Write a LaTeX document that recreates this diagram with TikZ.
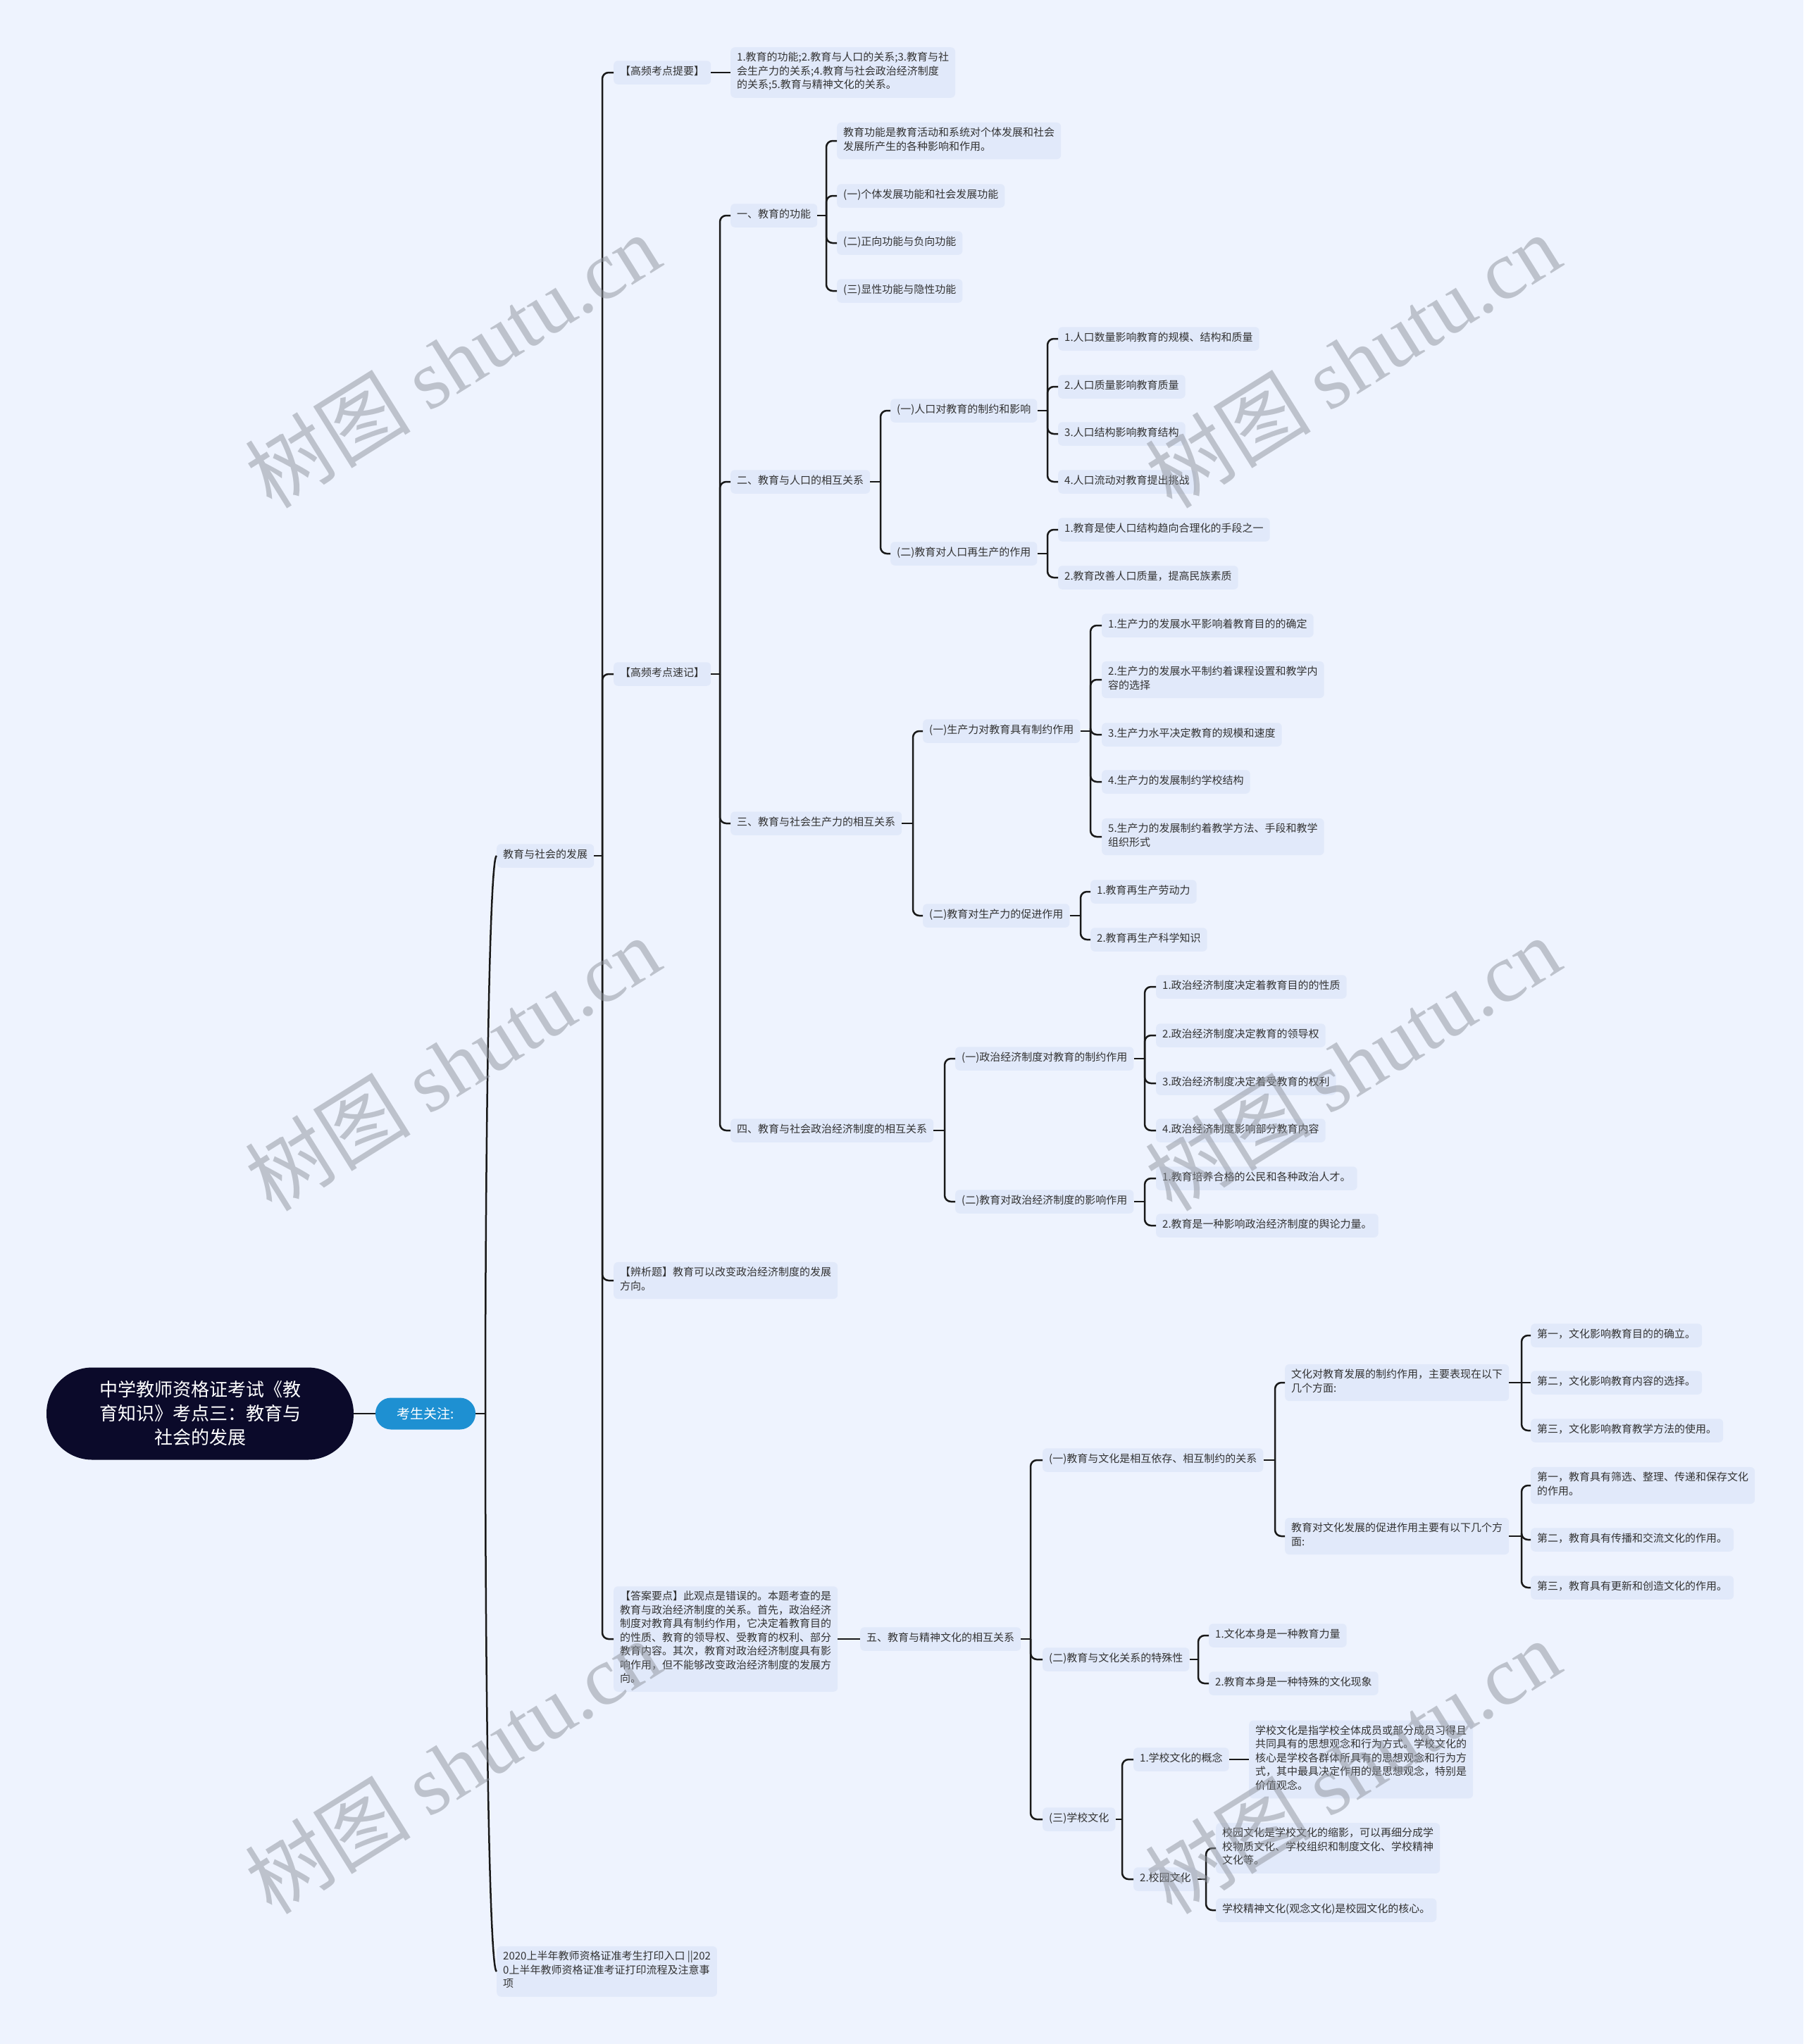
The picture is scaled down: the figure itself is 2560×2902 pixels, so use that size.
\documentclass[tikz,border=0pt]{standalone}
\usepackage{fontspec}
\setmainfont{Noto Sans CJK SC}
\newfontfamily\wmlatin{Liberation Serif}
\definecolor{bgc}{HTML}{EEF3FE}
\definecolor{nodefill}{HTML}{E1E9FA}
\definecolor{txt}{HTML}{333333}
\definecolor{rootc}{HTML}{0B0A2A}
\definecolor{kaoc}{HTML}{1E90D2}
\definecolor{wmc}{HTML}{8E939C}
\newcommand{\fs}{\fontsize{15pt}{19.5pt}\selectfont}
\newcommand{\grp}[3]{%
  \draw[conn] (#1.east) -- (#2);
  \foreach \c in {#3} {\draw[conn] (#2) |- (\c.west);}
}
\begin{document}
\begin{tikzpicture}[x=1pt,y=-1pt,
  box/.style={anchor=west, fill=nodefill, rounded corners=6pt, inner xsep=9pt, inner ysep=7pt, align=left, font=\fs, text=txt, execute at begin node=\strut, execute at end node=\strut},
  conn/.style={draw=black!90, line width=2.5pt, rounded corners=9pt},
  wm/.style={text=wmc, text opacity=0.5, rotate=32, font=\fontsize{118pt}{128pt}\selectfont, inner sep=0pt}
]
\fill[bgc] (0,0) rectangle (2560,2902);
\useasboundingbox (0,0) rectangle (2560,2902);

% root and first level
\node[fill=rootc, text=white, rounded corners=65pt, minimum width=436pt, minimum height=131pt, align=center, font=\fontsize{26pt}{34pt}\selectfont, inner sep=0pt] (root) at (284,2007) {中学教师资格证考试《教\\育知识》考点三：教育与\\社会的发展};
\node[fill=kaoc, text=white, rounded corners=22pt, minimum width=142pt, minimum height=45pt, font=\fontsize{19pt}{22pt}\selectfont, inner sep=0pt] (kao) at (604,2007) {考生关注:};
\draw[conn] (root.east) -- (kao.west);

\node[box] (A) at (705,1215) {教育与社会的发展};
\node[box] (B) at (705,2799) {2020上半年教师资格证准考生打印入口 ||202\\0上半年教师资格证准考证打印流程及注意事\\项};
\coordinate (tk) at (689,2007);
\draw[conn] (kao.east) -- (tk);
\draw[conn] (tk) .. controls (689,1600) and (695,1215) .. (A.west);
\draw[conn] (tk) .. controls (689,2420) and (695,2799) .. (B.west);

% second level
\node[box] (A1) at (871,103) {【高频考点提要】};
\node[box] (A2) at (871,957) {【高频考点速记】};
\node[box] (A3) at (871,1818) {【辨析题】教育可以改变政治经济制度的发展\\方向。};
\node[box] (A4) at (871,2327) {【答案要点】此观点是错误的。本题考查的是\\教育与政治经济制度的关系。首先，政治经济\\制度对教育具有制约作用，它决定着教育目的\\的性质、教育的领导权、受教育的权利、部分\\教育内容。其次，教育对政治经济制度具有影\\响作用，但不能够改变政治经济制度的发展方\\向。};
\coordinate (tA) at (855,1215);
\grp{A}{tA}{A1,A2,A3,A4}

\node[box] (A1a) at (1037,103) {1.教育的功能;2.教育与人口的关系;3.教育与社\\会生产力的关系;4.教育与社会政治经济制度\\的关系;5.教育与精神文化的关系。};
\draw[conn] (A1.east) -- (A1a.west);

\node[box] (S1) at (1037,306) {一、教育的功能};
\node[box] (S2) at (1037,684) {二、教育与人口的相互关系};
\node[box] (S3) at (1037,1169) {三、教育与社会生产力的相互关系};
\node[box] (S4) at (1037,1605) {四、教育与社会政治经济制度的相互关系};
\coordinate (tA2) at (1022,957);
\grp{A2}{tA2}{S1,S2,S3,S4}

% 一
\node[box] (S1a) at (1188,200) {教育功能是教育活动和系统对个体发展和社会\\发展所产生的各种影响和作用。};
\node[box] (S1b) at (1188,278) {(一)个体发展功能和社会发展功能};
\node[box] (S1c) at (1188,345) {(二)正向功能与负向功能};
\node[box] (S1d) at (1188,413) {(三)显性功能与隐性功能};
\coordinate (tS1) at (1173,306);
\grp{S1}{tS1}{S1a,S1b,S1c,S1d}

% 二
\node[box] (P1) at (1264,583) {(一)人口对教育的制约和影响};
\node[box] (P2) at (1264,786) {(二)教育对人口再生产的作用};
\coordinate (tS2) at (1250,684);
\grp{S2}{tS2}{P1,P2}
\node[box] (P1a) at (1502,481) {1.人口数量影响教育的规模、结构和质量};
\node[box] (P1b) at (1502,549) {2.人口质量影响教育质量};
\node[box] (P1c) at (1502,616) {3.人口结构影响教育结构};
\node[box] (P1d) at (1502,684) {4.人口流动对教育提出挑战};
\coordinate (tP1) at (1487,583);
\grp{P1}{tP1}{P1a,P1b,P1c,P1d}
\node[box] (P2a) at (1502,752) {1.教育是使人口结构趋向合理化的手段之一};
\node[box] (P2b) at (1502,820) {2.教育改善人口质量，提高民族素质};
\coordinate (tP2) at (1487,786);
\grp{P2}{tP2}{P2a,P2b}

% 三
\node[box] (Q1) at (1310,1038) {(一)生产力对教育具有制约作用};
\node[box] (Q2) at (1310,1300) {(二)教育对生产力的促进作用};
\coordinate (tS3) at (1296,1169);
\grp{S3}{tS3}{Q1,Q2}
\node[box] (Q1a) at (1564,888) {1.生产力的发展水平影响着教育目的的确定};
\node[box] (Q1b) at (1564,965) {2.生产力的发展水平制约着课程设置和教学内\\容的选择};
\node[box] (Q1c) at (1564,1043) {3.生产力水平决定教育的规模和速度};
\node[box] (Q1d) at (1564,1110) {4.生产力的发展制约学校结构};
\node[box] (Q1e) at (1564,1188) {5.生产力的发展制约着教学方法、手段和教学\\组织形式};
\coordinate (tQ1) at (1548,1038);
\grp{Q1}{tQ1}{Q1a,Q1b,Q1c,Q1d,Q1e}
\node[box] (Q2a) at (1548,1266) {1.教育再生产劳动力};
\node[box] (Q2b) at (1548,1334) {2.教育再生产科学知识};
\coordinate (tQ2) at (1534,1300);
\grp{Q2}{tQ2}{Q2a,Q2b}

% 四
\node[box] (R1) at (1356,1503) {(一)政治经济制度对教育的制约作用};
\node[box] (R2) at (1356,1706) {(二)教育对政治经济制度的影响作用};
\coordinate (tS4) at (1341,1605);
\grp{S4}{tS4}{R1,R2}
\node[box] (R1a) at (1641,1401) {1.政治经济制度决定着教育目的的性质};
\node[box] (R1b) at (1641,1470) {2.政治经济制度决定教育的领导权};
\node[box] (R1c) at (1641,1538) {3.政治经济制度决定着受教育的权利};
\node[box] (R1d) at (1641,1605) {4.政治经济制度影响部分教育内容};
\coordinate (tR1) at (1625,1503);
\grp{R1}{tR1}{R1a,R1b,R1c,R1d}
\node[box] (R2a) at (1641,1673) {1.教育培养合格的公民和各种政治人才。};
\node[box] (R2b) at (1641,1740) {2.教育是一种影响政治经济制度的舆论力量。};
\coordinate (tR2) at (1625,1706);
\grp{R2}{tR2}{R2a,R2b}

% 五
\node[box] (W) at (1221,2327) {五、教育与精神文化的相互关系};
\draw[conn] (A4.east) -- (W.west);
\node[box] (W1) at (1480,2073) {(一)教育与文化是相互依存、相互制约的关系};
\node[box] (W2) at (1480,2356) {(二)教育与文化关系的特殊性};
\node[box] (W3) at (1480,2583) {(三)学校文化};
\coordinate (tW) at (1463,2327);
\grp{W}{tW}{W1,W2,W3}

\node[box] (W1a) at (1824,1963) {文化对教育发展的制约作用，主要表现在以下\\几个方面:};
\node[box] (W1b) at (1824,2181) {教育对文化发展的促进作用主要有以下几个方\\面:};
\coordinate (tW1) at (1810,2073);
\grp{W1}{tW1}{W1a,W1b}
\node[box] (W1a1) at (2173,1896) {第一，文化影响教育目的的确立。};
\node[box] (W1a2) at (2173,1963) {第二，文化影响教育内容的选择。};
\node[box] (W1a3) at (2173,2031) {第三，文化影响教育教学方法的使用。};
\coordinate (tW1a) at (2160,1963);
\draw[conn] (W1a.east) -- (W1a2.west);
\draw[conn] (tW1a) |- (W1a1.west);
\draw[conn] (tW1a) |- (W1a3.west);
\node[box] (W1b1) at (2173,2109) {第一，教育具有筛选、整理、传递和保存文化\\的作用。};
\node[box] (W1b2) at (2173,2186) {第二，教育具有传播和交流文化的作用。};
\node[box] (W1b3) at (2173,2254) {第三，教育具有更新和创造文化的作用。};
\coordinate (tW1b) at (2160,2181);
\grp{W1b}{tW1b}{W1b1,W1b2,W1b3}

\node[box] (W2a) at (1716,2322) {1.文化本身是一种教育力量};
\node[box] (W2b) at (1716,2390) {2.教育本身是一种特殊的文化现象};
\coordinate (tW2) at (1701,2356);
\grp{W2}{tW2}{W2a,W2b}

\node[box] (W3a) at (1609,2498) {1.学校文化的概念};
\node[box] (W3b) at (1609,2668) {2.校园文化};
\coordinate (tW3) at (1593,2583);
\grp{W3}{tW3}{W3a,W3b}
\node[box] (W3a1) at (1773,2498) {学校文化是指学校全体成员或部分成员习得且\\共同具有的思想观念和行为方式。学校文化的\\核心是学校各群体所具有的思想观念和行为方\\式，其中最具决定作用的是思想观念，特别是\\价值观念。};
\draw[conn] (W3a.east) -- (W3a1.west);
\node[box] (W3b1) at (1726,2624) {校园文化是学校文化的缩影，可以再细分成学\\校物质文化、学校组织和制度文化、学校精神\\文化等。};
\node[box] (W3b2) at (1726,2712) {学校精神文化(观念文化)是校园文化的核心。};
\coordinate (tW3b) at (1712,2668);
\grp{W3b}{tW3b}{W3b1,W3b2}

% watermarks
\foreach \wx/\wy [count=\i] in {642/512, 1920/512, 642/1510, 1920/1510, 642/2508, 1920/2508}
  \node[wm] (wm\i) at (\wx,\wy) {树图 {\wmlatin shutu.cn}};
\end{tikzpicture}
\end{document}
